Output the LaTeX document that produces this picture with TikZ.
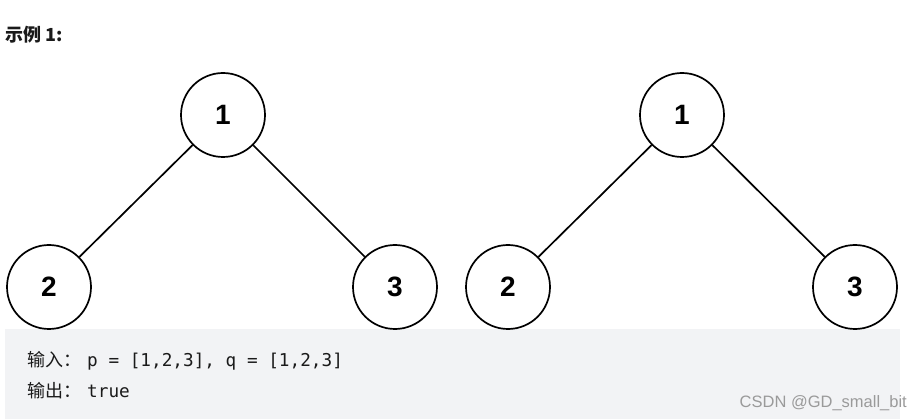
\documentclass[tikz,border=0pt]{standalone}
\usepackage{fontspec}
\usepackage{xcolor}
\setmainfont{Liberation Sans}
\setmonofont{DejaVu Sans Mono}
\newfontfamily\cjk{Noto Sans CJK SC}
\definecolor{codeBg}{HTML}{F2F3F5}
\definecolor{codeText}{HTML}{1A1A1A}
\definecolor{markGray}{HTML}{9A9A9A}

\begin{document}
\begin{tikzpicture}[x=1pt, y=-1pt,
  treenode/.style={circle, draw, line width=1.7pt, minimum size=84pt, inner sep=0pt, fill=white, font=\fontsize{28}{28}\selectfont\bfseries},
  edge/.style={line width=1.7pt}]
  \useasboundingbox (0,0) rectangle (923,419);
  \fill[codeBg] (5,329) rectangle (900,419);
  \node[anchor=west, inner sep=0pt, font=\cjk\fontsize{18}{18}\selectfont\bfseries, text=codeText] (title) at (5,35) {示例 1:};
  % first tree
  \node[treenode] (A1) at (223,115) {1};
  \node[treenode] (A2) at (49,287) {2};
  \node[treenode] (A3) at (395,287) {3};
  \draw[edge] (A1) -- (A2);
  \draw[edge] (A1) -- (A3);
  % second tree
  \node[treenode] (B1) at (682,115) {1};
  \node[treenode] (B2) at (508,287) {2};
  \node[treenode] (B3) at (855,287) {3};
  \draw[edge] (B1) -- (B2);
  \draw[edge] (B1) -- (B3);
  % example text
  \node[anchor=base west, inner sep=0pt, text=codeText, font=\fontsize{17.7}{18}\selectfont] (input) at (27,366) {{\cjk\fontsize{18}{18}\selectfont 输入：}\hspace{6pt}\ttfamily p = [1,2,3], q = [1,2,3]};
  \node[anchor=base west, inner sep=0pt, text=codeText, font=\fontsize{17.7}{18}\selectfont] (output) at (27,397) {{\cjk\fontsize{18}{18}\selectfont 输出：}\hspace{6pt}\ttfamily true};
  \node[anchor=base east, inner sep=0pt, text=markGray, font=\fontsize{16.5}{16.5}\selectfont] (mark) at (907,407) {CSDN @GD\_small\_bit};
\end{tikzpicture}
\end{document}
